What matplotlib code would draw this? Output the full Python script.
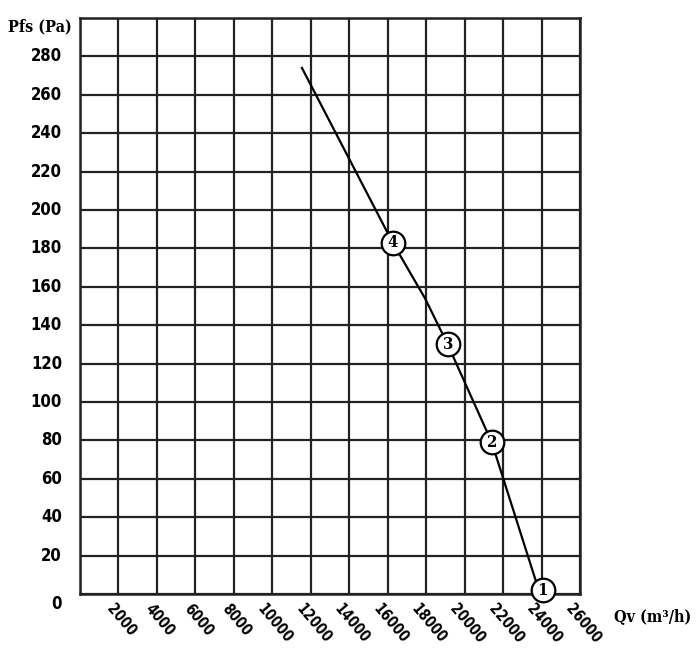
import matplotlib.pyplot as plt
from matplotlib.transforms import offset_copy

# curve
qv = [11540, 16260, 17940, 19120, 21410, 23920]
pfs = [274, 183, 154, 130, 79, 0]

# numbered operating points
pt_labels = ["1", "2", "3", "4"]
pt_qv = [24060, 21410, 19120, 16260]
pt_pfs = [2, 79, 130, 183]

x_ticks = list(range(2000, 28000, 2000))
y_ticks = list(range(20, 300, 20))

narrow = ["DejaVu Sans"]
serif = ["DejaVu Serif"]

fig = plt.figure(figsize=(7, 6.48), dpi=100)
ax = fig.add_axes([80 / 700, 54 / 648, 500 / 700, 576 / 648])

ax.set_xlim(0, 26000)
ax.set_ylim(0, 300)
ax.set_xticks(range(0, 28000, 2000))
ax.set_yticks(range(0, 320, 20))
ax.grid(True, color="#222222", linewidth=1.6)
for s in ax.spines.values():
    s.set_linewidth(1.8)
    s.set_color("#222222")
ax.tick_params(length=0)
ax.set_xticklabels([])
ax.set_yticklabels([])

for x in x_ticks:
    ax.text(x, 0, str(x), transform=offset_copy(ax.transData, fig, x=2, y=-5, units="points"),
            rotation=-50, ha="center", va="top", fontsize=10.5, fontweight="bold",
            family=narrow, fontstretch="condensed")
for y in y_ticks:
    ax.text(0, y, str(y), transform=offset_copy(ax.get_yaxis_transform(), fig, x=-13, units="points"),
            ha="right", va="center", fontsize=12, fontweight="bold", family=narrow,
            fontstretch="condensed")
ax.text(0, 0, "0", transform=offset_copy(ax.get_yaxis_transform(), fig, x=-13, y=-7, units="points"),
        ha="right", va="center", fontsize=12, fontweight="bold", family=narrow,
        fontstretch="condensed")

ax.text(-0.016, 1.0, "Pfs (Pa)", transform=ax.transAxes, ha="right", va="top",
        fontsize=11.5, fontweight="bold", family=serif, fontstretch="condensed")
ax.text(1.068, -0.04, "Qv (m³/h)", transform=ax.transAxes, ha="left", va="center",
        fontsize=11.5, fontweight="bold", family=serif, fontstretch="condensed")

ax.plot(qv, pfs, color="black", linewidth=1.6, clip_on=False, zorder=3)
ax.plot(pt_qv, pt_pfs, "o", markersize=17, markerfacecolor="white",
        markeredgecolor="black", markeredgewidth=1.6, clip_on=False, zorder=4)
for lbl, x, y in zip(pt_labels, pt_qv, pt_pfs):
    ax.text(x, y, lbl, ha="center", va="center", fontsize=12, fontweight="bold",
            family=serif, fontstretch="condensed", zorder=5)

fig.savefig("out.png", dpi=100)
